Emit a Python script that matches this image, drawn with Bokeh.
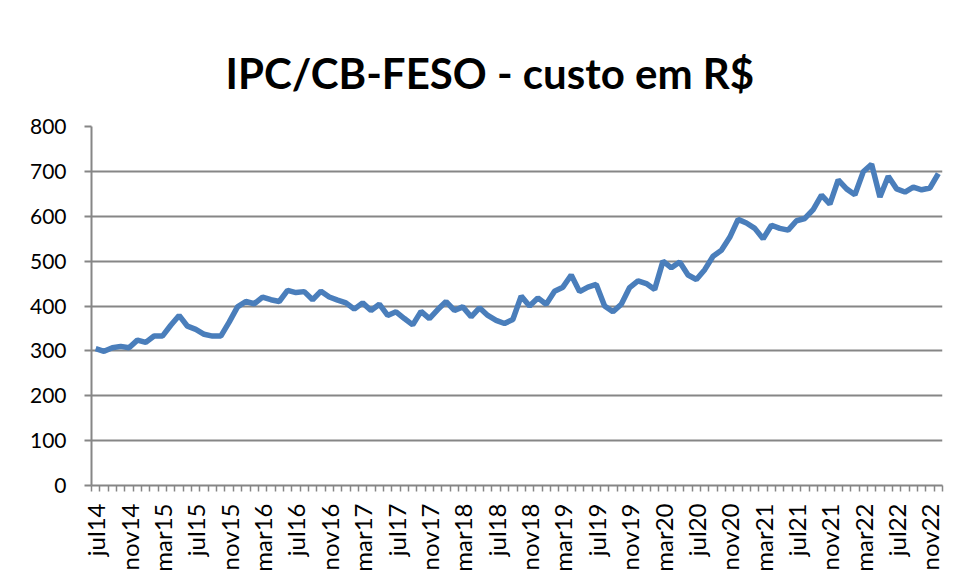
from bokeh.plotting import figure
from bokeh.models import Range1d, FixedTicker
from bokeh.embed import file_html
from bokeh.resources import INLINE
import math

# ---- data ----
month_abbr = ["jan", "fev", "mar", "abr", "mai", "jun", "jul", "ago", "set", "out", "nov", "dez"]
start_year, start_month = 2014, 7   # jul14
n_months = 102                       # jul14 .. dez22
categories = []
for k in range(n_months):
    m = (start_month - 1 + k) % 12
    y = start_year + (start_month - 1 + k) // 12
    categories.append(f"{month_abbr[m]}{str(y)[2:]}")

custo = [
    305, 299, 307, 310, 307, 324, 319, 333, 333, 357, 379, 355, 348, 337, 333, 333, 364, 398, 410, 405, 420, 414, 410, 435, 430, 432,
    414, 433, 420, 413, 407, 393, 407, 390, 404, 379, 387, 372, 358, 388, 372, 392, 410, 390, 398, 376, 396, 379, 368, 361, 370,
    422, 400, 418, 404, 433, 442, 469, 432, 442, 448, 400, 387, 404, 441, 456, 450, 437, 500, 485, 498, 469, 459, 481, 511, 524, 553,
    593, 585, 573, 550, 580, 573, 569, 590, 595, 615, 647, 627, 681, 661, 648, 699, 716, 643, 689, 661, 654, 665, 659, 663, 695,
]
y_ticks = [0, 100, 200, 300, 400, 500, 600, 700, 800]
label_step = 4
title_text = "IPC/CB-FESO - custo em R$"

xs = list(range(len(custo)))

GRAY = "#868686"
FONT = "Lato"

p = figure(width=959, height=583, output_backend="svg", toolbar_location=None,
           x_range=Range1d(-0.5, len(custo) - 0.5), y_range=Range1d(0, 800),
           min_border_left=91, min_border_right=17, min_border_bottom=98, min_border_top=126)

p.title.text = title_text
p.title.align = "left"
p.title.text_font = FONT
p.title.text_font_style = "bold"
p.title.text_font_size = "42px"
p.title.text_color = "black"
p.title.offset = 134
p.title.standoff = 57

p.outline_line_color = None
p.background_fill_color = "white"
p.border_fill_color = "white"

p.line(xs, custo, line_width=5.5, color="#4a7ebb")

# grid
p.xgrid.grid_line_color = None
p.ygrid.grid_line_color = GRAY
p.ygrid.grid_line_width = 2
p.ygrid.ticker = FixedTicker(ticks=y_ticks)

# y axis
p.yaxis.ticker = FixedTicker(ticks=y_ticks)
p.yaxis.axis_line_color = GRAY
p.yaxis.axis_line_width = 2
p.yaxis.major_tick_line_color = GRAY
p.yaxis.major_tick_line_width = 2
p.yaxis.major_tick_out = 7
p.yaxis.major_tick_in = 0
p.yaxis.minor_tick_line_color = None
p.yaxis.major_label_text_font = FONT
p.yaxis.major_label_text_font_size = "21px"
p.yaxis.major_label_text_color = "black"
p.yaxis.major_label_standoff = 18

# x axis
major = list(range(0, len(custo), label_step))
minor = [i - 0.5 for i in range(len(custo) + 1)]
p.xaxis.ticker = FixedTicker(ticks=major, minor_ticks=minor)
p.xaxis.major_label_overrides = {i: categories[i] for i in major}
p.xaxis.axis_line_color = GRAY
p.xaxis.axis_line_width = 2
p.xaxis.major_tick_line_color = None
p.xaxis.minor_tick_line_color = GRAY
p.xaxis.minor_tick_line_width = 1.5
p.xaxis.minor_tick_out = 6
p.xaxis.minor_tick_in = 0
p.xaxis.major_label_orientation = math.pi / 2
p.xaxis.major_label_text_font = FONT
p.xaxis.major_label_text_font_size = "24px"
p.xaxis.major_label_text_color = "black"
p.xaxis.major_label_standoff = 12

open("out.html", "w").write(file_html(p, INLINE))
